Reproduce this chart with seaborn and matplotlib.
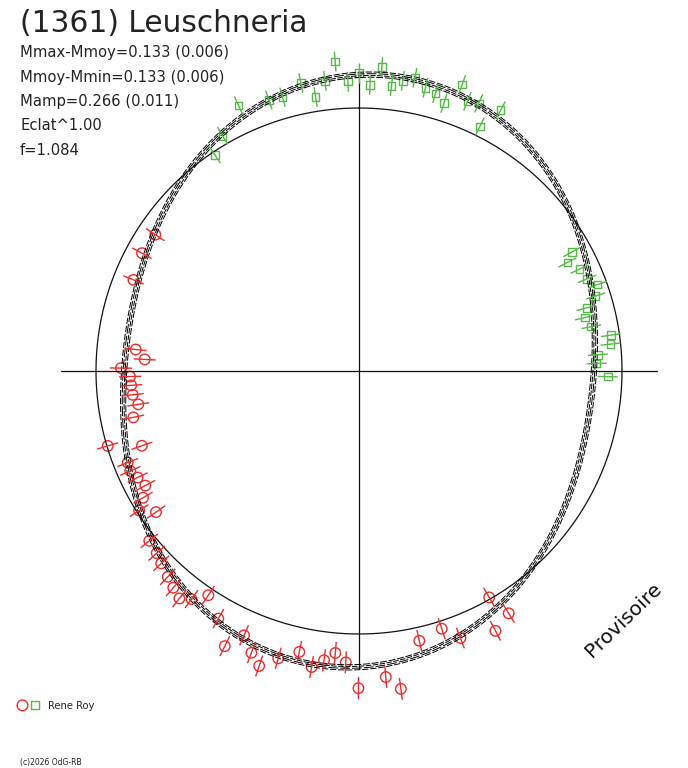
import numpy as np
import pandas as pd
import matplotlib
matplotlib.use("Agg")
import matplotlib.pyplot as plt
import seaborn as sns
from matplotlib.collections import LineCollection

# phase angle in degrees (clockwise from top), dm = radius - 1
green_phase = [326.3, 329.9, 335.6, 341.6, 344.4, 348.6, 351.0, 353.3, 355.6, 357.8,
               0.0, 2.2, 4.3, 6.5, 8.6, 10.8, 13.2, 15.4, 17.6, 19.8, 21.9, 24.1, 26.3, 28.5,
               60.8, 62.5, 65.2, 68.0, 70.1, 72.4, 74.5, 76.7, 79.2, 81.9, 83.9, 86.1, 88.2, 91.3]
green_dm = [-0.012, 0.034, 0.108, 0.086, 0.081, 0.117, 0.055, 0.111, 0.180, 0.101,
            0.133, 0.089, 0.158, 0.091, 0.116, 0.135, 0.106, 0.095, 0.068, 0.158, 0.105, 0.115, 0.037, 0.128,
            -0.072, -0.107, -0.076, -0.065, -0.035, -0.056, -0.103, -0.118, -0.101, -0.033, -0.038, -0.090, -0.096, -0.054]

red_phase = [148.3, 150.1, 152.3, 159.2, 162.2, 167.4, 172.5, 175.0, 180.1, 182.6,
             184.8, 186.9, 189.1, 192.0, 195.7, 198.7, 200.9, 203.5, 206.0, 209.6,
             213.9, 216.3, 218.3, 220.6, 222.9, 225.8, 228.0, 231.0, 235.2, 237.6,
             239.6, 241.8, 244.3, 246.4, 248.4, 251.0, 253.4, 258.4, 261.4, 264.0,
             266.4, 268.6, 270.7, 273.1, 275.5, 292.0, 298.5, 303.8]
red_dm = [0.083, -0.007, 0.116, 0.086, 0.029, 0.051, 0.219, 0.168, 0.206, 0.109,
          0.076, 0.108, 0.140, 0.092, 0.135, 0.184, 0.147, 0.096, 0.164, 0.083,
          0.027, 0.076, 0.102, 0.085, 0.068, 0.049, 0.035, 0.026, -0.060, -0.010,
          -0.048, -0.078, -0.066, -0.051, -0.054, -0.127, -0.003, -0.124, -0.151, -0.135,
          -0.132, -0.129, -0.095, -0.184, -0.147, -0.075, -0.061, -0.068]

green_err = 0.038
red_err = 0.042

mmax_mmoy = 0.133
model_mean = 0.0095
model_amp = 0.12
model_phase = 7.0
model_offsets = [-0.010, -0.0035, 0.0035, 0.010]
model_dashes = [(0, (5, 1.2)), (2, (4, 1.0)), (3, (7, 1.5)), (1, (4.5, 1.3))]

title = "(1361) Leuschneria"
info_lines = ["Mmax-Mmoy=0.133 (0.006)", "Mmoy-Mmin=0.133 (0.006)",
              "Mamp=0.266 (0.011)", "Eclat^1.00", "f=1.084"]

red = "#ee2b2b"
green = "#55b947"

sns.set_style("white")
plt.rcParams['font.family'] = ['DejaVu Sans']
plt.rcParams['lines.scale_dashes'] = False

W, H = 688, 768
cx, cy, scale = 359, 371, 263.0

fig = plt.figure(figsize=(W / 100, H / 100), dpi=100)
ax = fig.add_axes([0, 0, 1, 1])
ax.set_xlim(-cx / scale, (W - cx) / scale)
ax.set_ylim(-(H - cy) / scale, cy / scale)
ax.axis('off')


def polar_xy(theta_deg, r):
    t = np.deg2rad(np.asarray(theta_deg, dtype=float))
    r = np.asarray(r, dtype=float)
    return r * np.sin(t), r * np.cos(t)


# axes cross
ax.plot([-1 - mmax_mmoy, 1 + mmax_mmoy], [0, 0], color='#111111', lw=0.9)
ax.plot([0, 0], [-1 - mmax_mmoy, 1 + mmax_mmoy], color='#111111', lw=0.9)

# reference circle
th = np.linspace(0, 360, 721)
cx_, cy_ = polar_xy(th, np.ones_like(th))
sns.lineplot(x=cx_, y=cy_, sort=False, estimator=None, color='#111111', lw=0.9, ax=ax)

# model curves
for off, ls in zip(model_offsets, model_dashes):
    r = 1 + model_mean + off + model_amp * np.cos(np.deg2rad(2 * (th - model_phase)))
    mx, my = polar_xy(th, r)
    sns.lineplot(x=mx, y=my, sort=False, estimator=None, color='#000000',
                 lw=0.7, linestyle=ls, ax=ax)


def draw_series(phase, dm, err, color, marker, size):
    r = 1 + np.asarray(dm)
    x0, y0 = polar_xy(phase, r - err)
    x1, y1 = polar_xy(phase, r + err)
    segs = [[(a, b), (c, d)] for a, b, c, d in zip(x0, y0, x1, y1)]
    ax.add_collection(LineCollection(segs, colors=color, linewidths=1.0))
    px, py = polar_xy(phase, r)
    df = pd.DataFrame({'x': px, 'y': py})
    sns.scatterplot(data=df, x='x', y='y', marker=marker, s=size, color=color,
                    edgecolor=color, linewidth=1.0, ax=ax, legend=False)
    ax.collections[-1].set_facecolor('none')


draw_series(red_phase, red_dm, red_err, red, 'o', 57)
draw_series(green_phase, green_dm, green_err, green, 's', 30)

# texts
fig.text(20 / W, 1 - 32.5 / H, title, fontsize=21.3, color='#222222', va='baseline')
for i, line in enumerate(info_lines):
    fig.text(20 / W, 1 - (57.3 + 24.4 * i) / H, line, fontsize=10.6, color='#222222', va='baseline')

fig.text(624 / W, 1 - 620 / H, "Provisoire", fontsize=14.5, rotation=44, color='#111111',
         ha='center', va='center', rotation_mode='anchor')

ax.scatter([22.5 / W], [1 - 705.3 / H], transform=fig.transFigure, marker='o', s=59,
           facecolor='none', edgecolor=red, linewidth=1.0, clip_on=False)
ax.scatter([35 / W], [1 - 705.3 / H], transform=fig.transFigure, marker='s', s=30,
           facecolor='none', edgecolor=green, linewidth=1.0, clip_on=False)
fig.text(47.7 / W, 1 - 709.3 / H, "Rene Roy", fontsize=7.2, color='#222222', va='baseline')
fig.text(20 / W, 1 - 765.5 / H, "(c)2026 OdG-RB", fontsize=5.5, color='#222222', va='baseline')

fig.savefig("out.png", dpi=100)
